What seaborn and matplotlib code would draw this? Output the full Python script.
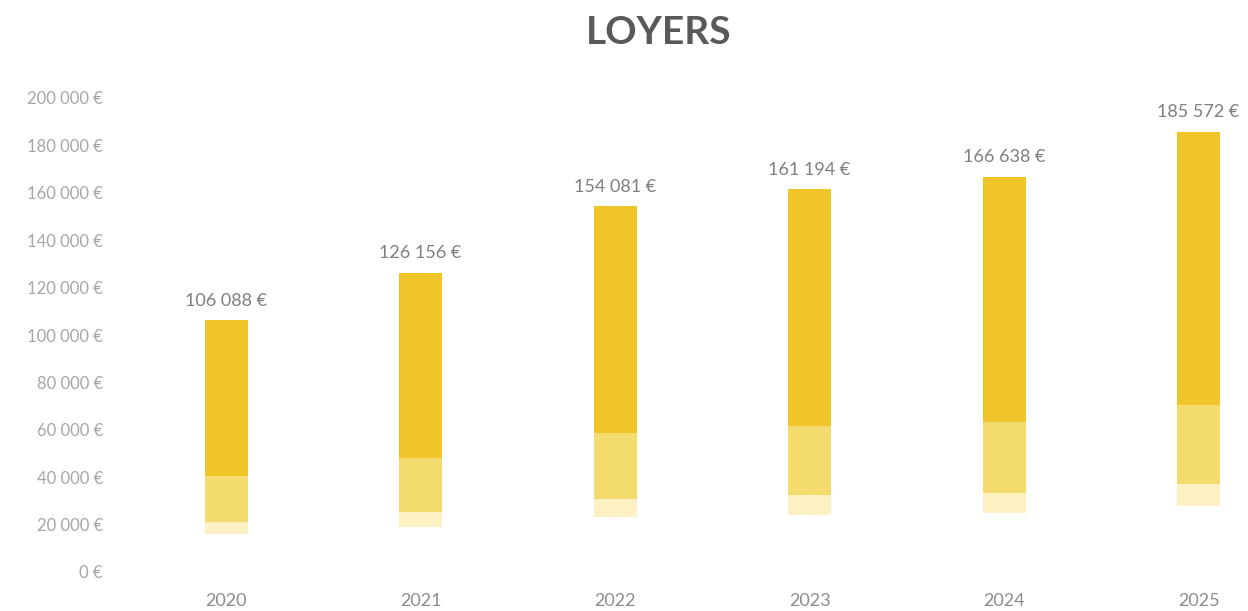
import numpy as np
import pandas as pd
import matplotlib
matplotlib.use("Agg")
import matplotlib.pyplot as plt
import seaborn as sns
from matplotlib.colors import to_rgba

years = ["2020", "2021", "2022", "2023", "2024", "2025"]
loyers = [106088, 126156, 154081, 161194, 166638, 185572]
yticks = [0, 20000, 40000, 60000, 80000, 100000, 120000, 140000, 160000, 180000, 200000]

def fmt(v):
    return f"{v:,.0f}".replace(",", " ") + " €"

sns.set_theme(style="white")
plt.rcParams["font.family"] = ["Lato", "DejaVu Sans"]

df = pd.DataFrame({"annee": years, "loyer": loyers})

fig = plt.figure(figsize=(12.48, 6.11), dpi=100)
ax = fig.add_axes([125 / 1248, 1 - 572 / 611, (1248 - 125) / 1248, (572 - 98) / 611])

main = "#EFC52A"
sns.barplot(data=df, x="annee", y="loyer", color=main, width=0.22, saturation=1, ax=ax)

# fading effect at the bottom of each bar
white0 = (1, 1, 1, 0)
vlight = to_rgba("#FDF0C2")
light = to_rgba("#F3DB6E")
solid = to_rgba(main)
bands = [(0.00, 0.15, white0), (0.15, 0.20, vlight), (0.20, 0.38, light), (0.38, 1.01, solid)]
n = 400
pos = np.linspace(0, 1, n)
grad = np.zeros((n, 1, 4))
for i, p in enumerate(pos):
    for a, b, c in bands:
        if a <= p < b:
            grad[i, 0] = c
            break
for patch in ax.patches:
    x0 = patch.get_x()
    w = patch.get_width()
    h = patch.get_height()
    patch.set_visible(False)
    ax.imshow(grad, extent=(x0, x0 + w, 0, h), origin="lower", aspect="auto",
              interpolation="nearest", zorder=2)

for i, v in enumerate(loyers):
    ax.text(i, v + 5000, fmt(v), ha="center", va="bottom", fontsize=13, color="#7F7F7F")

ax.set_xlim(-0.519, 5.254)
ax.set_ylim(0, 200000)
ax.set_yticks(yticks)
ax.set_yticklabels([fmt(t) for t in yticks], fontsize=12, color="#A6A6A6")
ax.tick_params(axis="x", labelsize=13, labelcolor="#8C8C8C", pad=15, length=0)
ax.tick_params(axis="y", pad=16, length=0)
ax.set_xlabel("")
ax.set_ylabel("")
sns.despine(ax=ax, left=True, bottom=True)

fig.text(0.528, 1 - 33 / 611, "LOYERS", ha="center", va="center", fontsize=28,
         fontweight="bold", color="#595959")

fig.savefig("out.png", dpi=100, facecolor="white")
